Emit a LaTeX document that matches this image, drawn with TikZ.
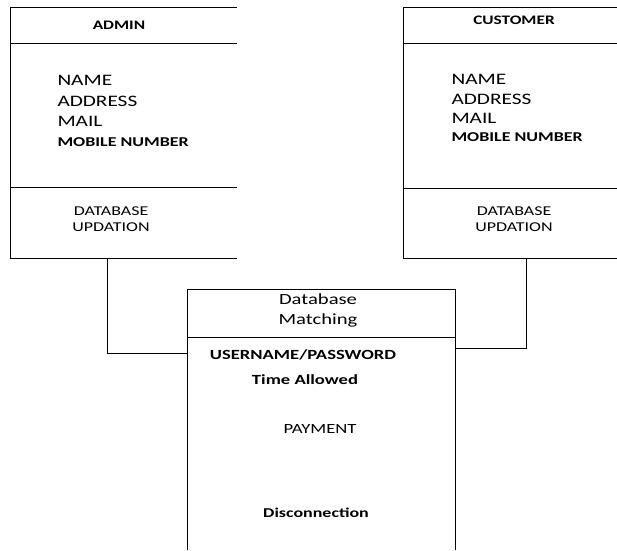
\documentclass[tikz,border=0pt]{standalone}
\usepackage{fontspec}
\setmainfont{Carlito}[FakeStretch=1.33]
\begin{document}
\begin{tikzpicture}[x=1pt,y=-1pt,line width=1pt,
        every node/.style={inner sep=0pt},
        head/.style={font=\bfseries\fontsize{13}{15}\selectfont},
        field/.style={anchor=west,font=\fontsize{16}{18}\selectfont},
        boldfield/.style={anchor=west,font=\bfseries\fontsize{13.5}{16}\selectfont},
        op/.style={font=\fontsize{13.5}{16}\selectfont}]
        \useasboundingbox (0,0) rectangle (617,550);

        % admin box
        \draw (237,7) -- (10,7) -- (10,258) -- (237,258);
        \draw (10,43) -- (237,43);
        \draw (10,187) -- (237,187);

        % customer box
        \draw (617,7) -- (403,7) -- (403,258) -- (617,258);
        \draw (403,43) -- (617,43);
        \draw (403,188) -- (617,188);

        % database matching box
        \draw (187,550) -- (187,289) -- (455,289) -- (455,550);
        \draw (187,337) -- (455,337);

        % admin text
        \node[head] (adminhead) at (119,25) {ADMIN};
        \node[field] (aname) at (57,80) {NAME};
        \node[field] (aaddr) at (57,101) {ADDRESS};
        \node[field] (amail) at (57,121) {MAIL};
        \node[boldfield] (amob) at (57,142) {MOBILE NUMBER};
        \node[op,align=center] (aupd) at (111,219) {DATABASE\\UPDATION};

        % customer text
        \node[head] (custhead) at (514,20) {CUSTOMER};
        \node[field] (cname) at (451,79) {NAME};
        \node[field] (caddr) at (451,99) {ADDRESS};
        \node[field] (cmail) at (451,118) {MAIL};
        \node[boldfield] (cmob) at (451,137) {MOBILE NUMBER};
        \node[op,align=center] (cupd) at (514,219) {DATABASE\\UPDATION};

        % database matching text
        \node[font=\fontsize{15.5}{20}\selectfont,align=center] (dbhead) at (318,310) {Database\\Matching};
        \node[font=\bfseries\fontsize{14}{16}\selectfont] (login) at (303,355) {USERNAME/PASSWORD};
        \node[font=\bfseries\fontsize{14}{16}\selectfont] (time) at (305,380) {Time Allowed};
        \node[font=\fontsize{14}{16}\selectfont] (pay) at (320,429) {PAYMENT};
        \node[font=\bfseries\fontsize{13.5}{15}\selectfont] (disc) at (316,513) {Disconnection};

        % connector ends
        \coordinate (adminbot) at (107,258);
        \coordinate (custbot) at (526,258);
        \coordinate (dbleft) at (187,353);
        \coordinate (dbright) at (455,348);

        % connectors
        \draw (adminbot) |- (dbleft);
        \draw (custbot) |- (dbright);

    \end{tikzpicture}
\end{document}
